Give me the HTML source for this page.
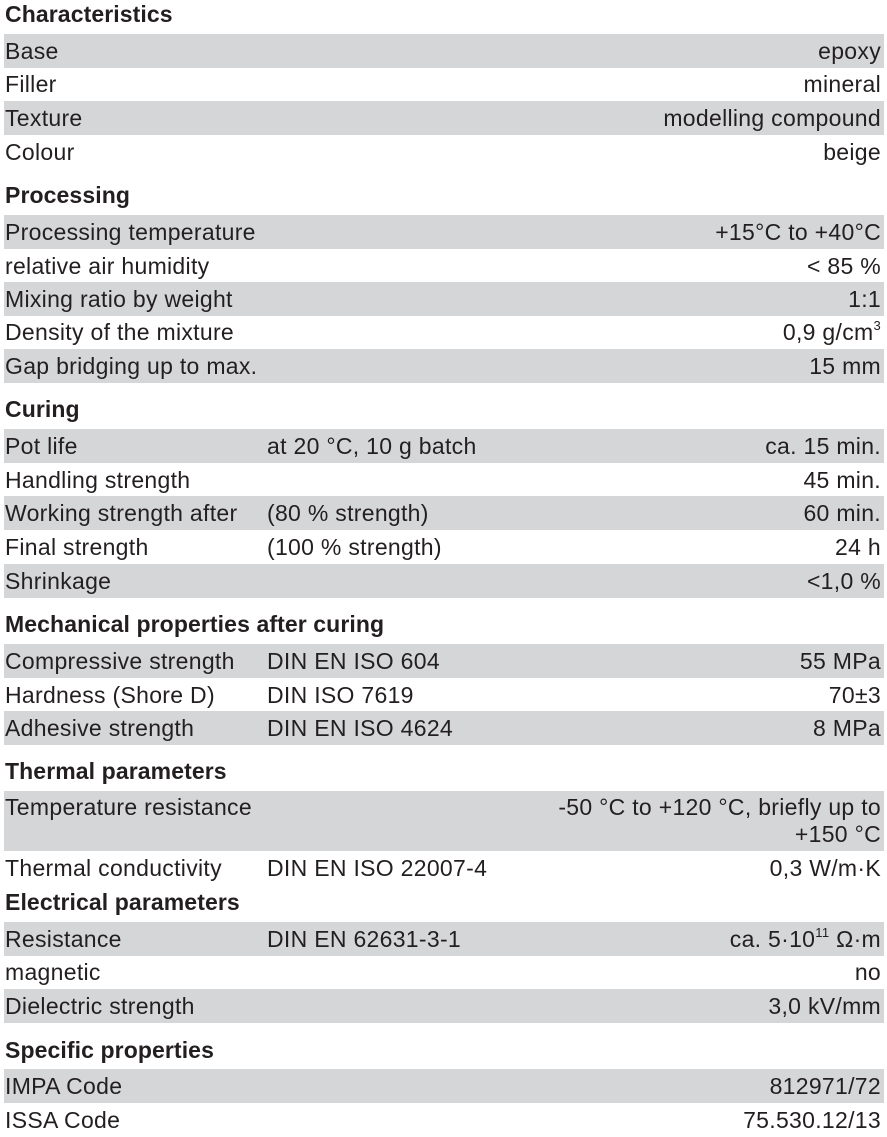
<!DOCTYPE html>
<html><head><meta charset="utf-8"><style>
body{margin:0;width:887px;height:1135px;background:#fff;position:relative;overflow:hidden;font-family:"Liberation Sans",Arial,sans-serif;color:#231f20;font-size:23px;letter-spacing:0.3px}
.h{position:absolute;left:5px;font-weight:bold;line-height:26px;letter-spacing:0.1px}
.r{position:absolute;left:4px;width:880px;height:34px;line-height:34px}
.g{background:#d5d6d8}
.a{position:absolute;left:1px;top:0;white-space:nowrap}
.b{position:absolute;left:263px;top:0;white-space:nowrap}
.c{position:absolute;right:3px;top:0;text-align:right;white-space:nowrap}
sup{font-size:13px;line-height:0;vertical-align:10px}
</style></head><body>
<div class="h" style="top:1px">Characteristics</div>
<div class="r g" style="top:34px"><span class="a">Base</span><span class="c">epoxy</span></div>
<div class="r" style="top:67px"><span class="a">Filler</span><span class="c">mineral</span></div>
<div class="r g" style="top:101px"><span class="a">Texture</span><span class="c">modelling compound</span></div>
<div class="r" style="top:135px"><span class="a">Colour</span><span class="c">beige</span></div>

<div class="h" style="top:182px">Processing</div>
<div class="r g" style="top:215px"><span class="a">Processing temperature</span><span class="c">+15°C to +40°C</span></div>
<div class="r" style="top:249px"><span class="a">relative air humidity</span><span class="c">&lt; 85 %</span></div>
<div class="r g" style="top:282px"><span class="a">Mixing ratio by weight</span><span class="c">1:1</span></div>
<div class="r" style="top:315px"><span class="a">Density of the mixture</span><span class="c">0,9 g/cm<sup>3</sup></span></div>
<div class="r g" style="top:349px"><span class="a">Gap bridging up to max.</span><span class="c">15 mm</span></div>

<div class="h" style="top:396px">Curing</div>
<div class="r g" style="top:429px"><span class="a">Pot life</span><span class="b">at 20 °C, 10 g batch</span><span class="c">ca. 15 min.</span></div>
<div class="r" style="top:463px"><span class="a">Handling strength</span><span class="c">45 min.</span></div>
<div class="r g" style="top:496px"><span class="a">Working strength after</span><span class="b">(80 % strength)</span><span class="c">60 min.</span></div>
<div class="r" style="top:530px"><span class="a">Final strength</span><span class="b">(100 % strength)</span><span class="c">24 h</span></div>
<div class="r g" style="top:564px"><span class="a">Shrinkage</span><span class="c">&lt;1,0 %</span></div>

<div class="h" style="top:611px">Mechanical properties after curing</div>
<div class="r g" style="top:644px"><span class="a">Compressive strength</span><span class="b">DIN EN ISO 604</span><span class="c">55 MPa</span></div>
<div class="r" style="top:678px"><span class="a">Hardness (Shore D)</span><span class="b">DIN ISO 7619</span><span class="c">70±3</span></div>
<div class="r g" style="top:711px"><span class="a">Adhesive strength</span><span class="b">DIN EN ISO 4624</span><span class="c">8 MPa</span></div>

<div class="h" style="top:758px">Thermal parameters</div>
<div class="r g" style="top:791px;height:60px;line-height:27px"><span class="a" style="top:3px">Temperature resistance</span><span class="c" style="top:3px">-50 °C to +120 °C, briefly up to<br>+150 °C</span></div>
<div class="r" style="top:851px"><span class="a">Thermal conductivity</span><span class="b">DIN EN ISO 22007-4</span><span class="c">0,3 W/m·K</span></div>
<div class="h" style="top:889px">Electrical parameters</div>
<div class="r g" style="top:922px"><span class="a">Resistance</span><span class="b">DIN EN 62631-3-1</span><span class="c">ca. 5·10<sup>11</sup> Ω·m</span></div>
<div class="r" style="top:955px"><span class="a">magnetic</span><span class="c">no</span></div>
<div class="r g" style="top:989px"><span class="a">Dielectric strength</span><span class="c">3,0 kV/mm</span></div>

<div class="h" style="top:1037px">Specific properties</div>
<div class="r g" style="top:1069px"><span class="a">IMPA Code</span><span class="c">812971/72</span></div>
<div class="r" style="top:1103px"><span class="a">ISSA Code</span><span class="c">75.530.12/13</span></div>
</body></html>
